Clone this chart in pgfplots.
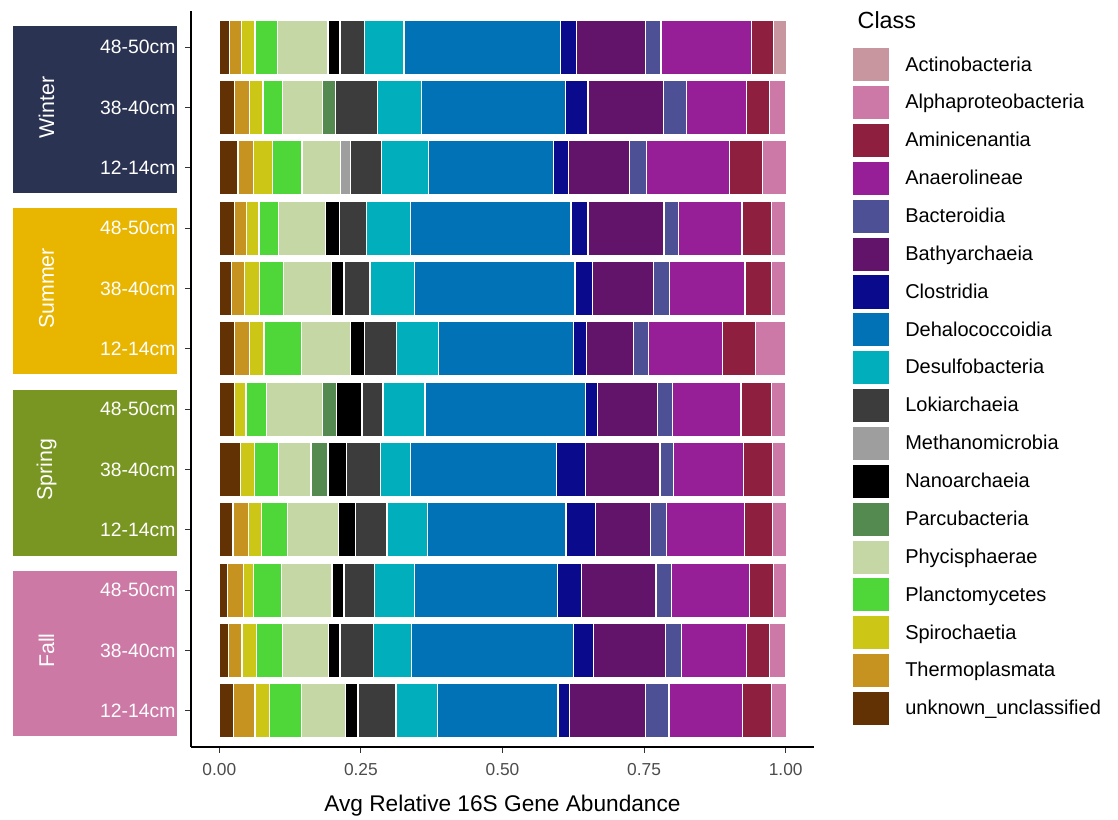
\documentclass[border=0pt]{standalone}
\usepackage{pgfplots}
\pgfplotsset{compat=1.18}
\usepackage{pgfplotstable}
\usepackage{fontspec}
\setmainfont{Liberation Sans}
\definecolor{cunk}{RGB}{99,50,4}
\definecolor{ctherm}{RGB}{198,146,32}
\definecolor{cspiro}{RGB}{204,198,22}
\definecolor{cplanc}{RGB}{79,214,56}
\definecolor{cphyc}{RGB}{196,215,164}
\definecolor{cparcu}{RGB}{84,138,79}
\definecolor{cnano}{RGB}{0,0,0}
\definecolor{cmethano}{RGB}{158,158,158}
\definecolor{cloki}{RGB}{60,60,60}
\definecolor{cdesulfo}{RGB}{0,175,187}
\definecolor{cdehalo}{RGB}{0,114,181}
\definecolor{cclostr}{RGB}{10,10,140}
\definecolor{cbathy}{RGB}{98,20,106}
\definecolor{cbacter}{RGB}{78,80,150}
\definecolor{canaero}{RGB}{150,30,150}
\definecolor{camini}{RGB}{143,31,63}
\definecolor{calpha}{RGB}{204,121,167}
\definecolor{cactino}{RGB}{200,150,158}
\definecolor{cwinter}{RGB}{43,51,82}
\definecolor{csummer}{RGB}{232,181,0}
\definecolor{cspring}{RGB}{122,150,34}
\definecolor{cfall}{RGB}{204,121,165}

\pgfplotstableread{
pos unk therm spiro planc phyc parcu nano methano loki desulfo dehalo clostr bathy bacter anaero amini alpha actino
0  0.025 0.038 0.026 0.056 0.078 0     0.022 0     0.067 0.073 0.213 0.021 0.134 0.041 0.130 0.051 0.026 0
1  0.016 0.024 0.026 0.045 0.082 0     0.020 0     0.059 0.068 0.285 0.036 0.127 0.028 0.115 0.041 0.028 0
2  0.015 0.028 0.017 0.050 0.089 0     0.021 0     0.054 0.070 0.253 0.043 0.131 0.028 0.137 0.042 0.023 0
3  0.024 0.028 0.022 0.046 0.091 0     0.029 0     0.056 0.071 0.245 0.052 0.098 0.028 0.137 0.050 0.024 0
4  0.037 0     0.025 0.042 0.058 0.030 0.032 0     0.060 0.053 0.259 0.050 0.132 0.024 0.124 0.051 0.022 0
5  0.027 0     0.020 0.037 0.098 0.025 0.045 0     0.037 0.074 0.283 0.022 0.105 0.027 0.121 0.054 0.024 0
6  0.027 0.026 0.026 0.066 0.087 0     0.024 0     0.057 0.074 0.238 0.023 0.084 0.026 0.131 0.058 0.052 0
7  0.021 0.023 0.027 0.042 0.085 0     0.022 0     0.046 0.079 0.283 0.031 0.107 0.029 0.133 0.047 0.025 0
8  0.027 0.021 0.022 0.034 0.084 0     0.024 0     0.048 0.077 0.284 0.030 0.134 0.026 0.112 0.052 0.024 0
9  0.033 0.028 0.033 0.052 0.068 0     0     0.018 0.054 0.084 0.220 0.026 0.108 0.030 0.147 0.058 0.042 0
10 0.027 0.027 0.023 0.035 0.070 0.023 0     0     0.074 0.078 0.254 0.040 0.133 0.041 0.106 0.040 0.028 0
11 0.018 0.021 0.024 0.040 0.089 0     0.021 0     0.044 0.069 0.277 0.028 0.121 0.028 0.159 0.040 0     0.022
}\data

\begin{document}
\begin{tikzpicture}
\useasboundingbox (-143.25pt,-54.75pt) rectangle (695.25pt,560.25pt);
% season strips
\fill[cwinter] (-133.7pt,415.8pt) rectangle (-10.3pt,540.6pt);
\fill[csummer] (-133.7pt,279.4pt) rectangle (-10.3pt,404.1pt);
\fill[cspring] (-133.7pt,143.25pt) rectangle (-10.3pt,268.05pt);
\fill[cfall] (-133.7pt,8.25pt) rectangle (-10.3pt,132.3pt);
\begin{axis}[
  at={(0,0)}, anchor=south west,
  scale only axis, width=467.25pt, height=552pt,
  xbar stacked, bar width=0.9,
  xmin=-0.05, xmax=1.05, ymin=-0.6, ymax=11.6,
  clip=false,
  axis x line*=bottom, axis y line*=left,
  axis line style={line width=1pt, -},
  tick align=outside, major tick length=4.5pt,
  tick style={line width=0.8pt, color=black!80},
  xtick={0,0.25,0.5,0.75,1},
  xticklabels={0.00,0.25,0.50,0.75,1.00},
  xticklabel style={font=\fontsize{13}{15}\selectfont, text=black!70, yshift=-4pt},
  ytick={0,...,11},
  yticklabels={12-14cm,38-40cm,48-50cm,12-14cm,38-40cm,48-50cm,12-14cm,38-40cm,48-50cm,12-14cm,38-40cm,48-50cm},
  yticklabel style={font=\fontsize{14.5}{16}\selectfont, text=white, inner sep=0pt, anchor=east, xshift=-7pt},
  xlabel={Avg Relative 16S Gene Abundance},
  xlabel style={font=\fontsize{17}{20}\selectfont, at={(axis description cs:0.5,0)}, anchor=center, yshift=-44pt},
  /pgf/number format/assume math mode=true,
  every axis plot/.append style={draw=white, line width=0.9pt},
  reverse legend,
  legend cell align=left,
  legend image code/.code={\fill[#1, draw=none] (0pt,-12.4pt) rectangle (27pt,12.4pt);},
  legend style={at={(rel axis cs:1,1)}, anchor=north west, xshift=29.25pt, yshift=-27.75pt,
    draw=none, fill=none, inner sep=0pt, row sep=3.6pt, column sep=12pt,
    font=\fontsize{15}{18}\selectfont, nodes={inner sep=0pt, anchor=west}},
]
\node[rotate=90, text=white, font=\fontsize{16}{18}\selectfont] at (axis cs:-0.305,10) {Winter};
\node[rotate=90, text=white, font=\fontsize{16}{18}\selectfont] at (axis cs:-0.305,7) {Summer};
\node[rotate=90, text=white, font=\fontsize{16}{18}\selectfont] at (axis cs:-0.305,4) {Spring};
\node[rotate=90, text=white, font=\fontsize{16}{18}\selectfont] at (axis cs:-0.305,1) {Fall};
\node[anchor=west, font=\fontsize{17.5}{20}\selectfont] at ([xshift=29.25pt,yshift=-6.75pt]rel axis cs:1,1) {Class};

\addplot[fill=cunk] table[x=unk, y=pos] {\data}; \addlegendentry{unknown\_unclassified}
\addplot[fill=ctherm] table[x=therm, y=pos] {\data}; \addlegendentry{Thermoplasmata}
\addplot[fill=cspiro] table[x=spiro, y=pos] {\data}; \addlegendentry{Spirochaetia}
\addplot[fill=cplanc] table[x=planc, y=pos] {\data}; \addlegendentry{Planctomycetes}
\addplot[fill=cphyc] table[x=phyc, y=pos] {\data}; \addlegendentry{Phycisphaerae}
\addplot[fill=cparcu] table[x=parcu, y=pos] {\data}; \addlegendentry{Parcubacteria}
\addplot[fill=cnano] table[x=nano, y=pos] {\data}; \addlegendentry{Nanoarchaeia}
\addplot[fill=cmethano] table[x=methano, y=pos] {\data}; \addlegendentry{Methanomicrobia}
\addplot[fill=cloki] table[x=loki, y=pos] {\data}; \addlegendentry{Lokiarchaeia}
\addplot[fill=cdesulfo] table[x=desulfo, y=pos] {\data}; \addlegendentry{Desulfobacteria}
\addplot[fill=cdehalo] table[x=dehalo, y=pos] {\data}; \addlegendentry{Dehalococcoidia}
\addplot[fill=cclostr] table[x=clostr, y=pos] {\data}; \addlegendentry{Clostridia}
\addplot[fill=cbathy] table[x=bathy, y=pos] {\data}; \addlegendentry{Bathyarchaeia}
\addplot[fill=cbacter] table[x=bacter, y=pos] {\data}; \addlegendentry{Bacteroidia}
\addplot[fill=canaero] table[x=anaero, y=pos] {\data}; \addlegendentry{Anaerolineae}
\addplot[fill=camini] table[x=amini, y=pos] {\data}; \addlegendentry{Aminicenantia}
\addplot[fill=calpha] table[x=alpha, y=pos] {\data}; \addlegendentry{Alphaproteobacteria}
\addplot[fill=cactino] table[x=actino, y=pos] {\data}; \addlegendentry{Actinobacteria}
\end{axis}
\end{tikzpicture}
\end{document}
